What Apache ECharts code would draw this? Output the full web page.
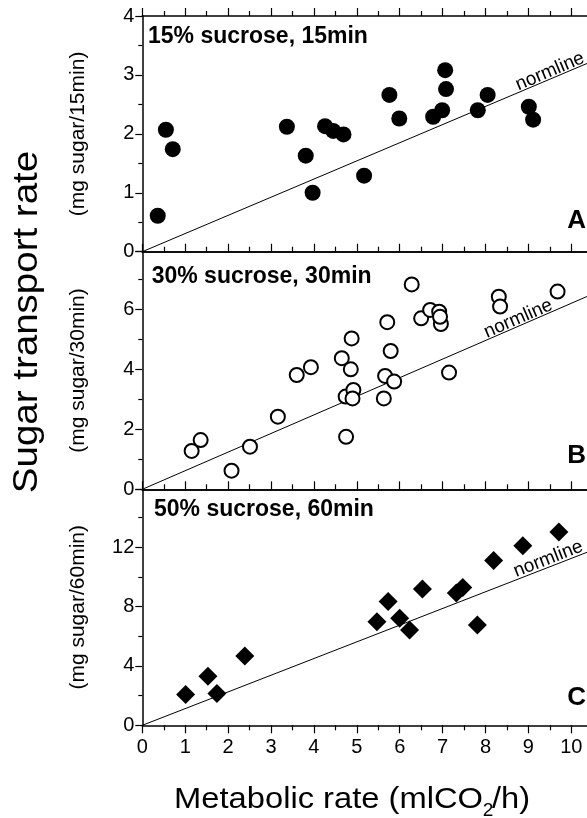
<!DOCTYPE html>
<html><head><meta charset="utf-8">
<script src="https://cdn.jsdelivr.net/npm/echarts@6/dist/echarts.min.js"></script>
<style>html,body{margin:0;padding:0;background:#fff}#c{width:587px;height:818px}</style>
</head><body><div id="c"></div>
<script>
// Panel A: 15% sucrose, 15min (filled circles)
const aX = [0.36,0.55,0.71,3.37,3.81,3.97,4.26,4.45,4.69,5.17,5.76,5.99,6.78,6.99,7.06,7.08,7.82,8.05,9.01,9.11];
const aY = [0.61,2.07,1.74,2.12,1.63,1.00,2.13,2.05,1.99,1.29,2.66,2.26,2.29,2.40,3.08,2.76,2.40,2.66,2.46,2.24];
// Panel B: 30% sucrose, 30min (open circles)
const bX = [1.15,1.36,2.08,2.51,3.16,3.60,3.93,4.65,4.75,4.74,4.86,4.88,4.92,4.90,5.63,5.66,5.71,5.79,5.87,6.28,6.50,6.71,6.92,6.96,6.94,7.15,8.31,8.34,9.68];
const bY = [1.28,1.64,0.62,1.42,2.42,3.81,4.07,4.37,1.75,3.09,4.00,5.03,3.31,3.03,3.03,3.78,5.57,4.61,3.59,6.83,5.70,5.98,5.92,5.51,5.75,3.89,6.42,6.09,6.59];
// Panel C: 50% sucrose, 60min (diamonds)
const cX = [1.01,1.53,1.74,2.39,5.47,5.73,6.00,6.23,6.53,7.32,7.47,7.81,8.19,8.87,9.71];
const cY = [2.07,3.31,2.14,4.66,6.98,8.33,7.21,6.42,9.17,8.90,9.28,6.76,11.10,12.09,13.02];
// normlines (endpoints)
const normA = [[0,0],[11,3.39]];
const normB = [[0,0],[11,6.82]];
const normC = [[0,0],[11,12.36]];
// axis tick settings
const xMin = 0, xMax = 11, xInterval = 1;
const yRanges = [{max:4, interval:1},{max:7.92, interval:2},{max:15.89, interval:4}];
const panelTitles = ['15% sucrose, 15min','30% sucrose, 30min','50% sucrose, 60min'];
const panelLetters = ['A','B','C'];
const unitLabels = ['(mg sugar/15min)','(mg sugar/30min)','(mg sugar/60min)'];

const FF = '"Liberation Sans", Arial, sans-serif';
const chart = echarts.init(document.getElementById('c'), null, {renderer:'canvas'});

const grids = [
  {left:142.3, width:471.9, top:16, height:235.7, outerBoundsMode:'none', containLabel:false},
  {left:142.3, width:471.9, top:251.7, height:237.6, outerBoundsMode:'none', containLabel:false},
  {left:142.3, width:471.9, top:489.3, height:236, outerBoundsMode:'none', containLabel:false}
];
const lineStyle = {color:'#000', width:1.5};
const xAxes = [], yAxes = [];
grids.forEach((g,i)=>{
  const last = i===2;
  xAxes.push({gridIndex:i, type:'value', position:'bottom', min:xMin, max:xMax, interval:xInterval,
    axisLine:{show:true, onZero:false, lineStyle},
    axisTick:{show:last, length:8, lineStyle:{color:'#000', width:1.2}},
    minorTick:{show:last, splitNumber:2, length:5, lineStyle:{color:'#000', width:1.2}},
    axisLabel:{show:last, fontSize:20, fontFamily:FF, color:'#000', margin:12, showMaxLabel:false},
    splitLine:{show:false}});
  xAxes.push({gridIndex:i, type:'value', position:'top', min:xMin, max:xMax, interval:xInterval,
    axisLine:{show:true, onZero:false, lineStyle},
    axisTick:{show:true, length:8, lineStyle:{color:'#000', width:1.2}},
    minorTick:{show:true, splitNumber:2, length:5, lineStyle:{color:'#000', width:1.2}},
    axisLabel:{show:false}, splitLine:{show:false}});
  yAxes.push({gridIndex:i, type:'value', min:0, max:yRanges[i].max, interval:yRanges[i].interval,
    axisLine:{show:true, onZero:false, lineStyle},
    axisTick:{show:true, length:7, lineStyle:{color:'#000', width:1.2}},
    minorTick:{show:true, splitNumber:2, length:4, lineStyle:{color:'#000', width:1.2}},
    axisLabel:{fontSize:20, fontFamily:FF, color:'#000', margin:8, showMaxLabel: i===0},
    splitLine:{show:false}});
});

const zip = (xs, ys) => xs.map((x,k)=>[x, ys[k]]);
const lineSeries = (data, i) => ({type:'line', xAxisIndex:i*2, yAxisIndex:i, data, symbol:'none',
  lineStyle:{color:'#000', width:1}, silent:true, animation:false, z:1});

const series = [
  lineSeries(normA,0), lineSeries(normB,1), lineSeries(normC,2),
  {type:'scatter', xAxisIndex:0, yAxisIndex:0, data:zip(aX,aY), symbol:'circle', symbolSize:16,
    itemStyle:{color:'#000', opacity:1}, animation:false, z:3},
  {type:'scatter', xAxisIndex:2, yAxisIndex:1, data:zip(bX,bY), symbol:'circle', symbolSize:14,
    itemStyle:{color:'#fff', borderColor:'#000', borderWidth:2, opacity:1}, animation:false, z:3},
  {type:'scatter', xAxisIndex:4, yAxisIndex:2, data:zip(cX,cY), symbol:'diamond', symbolSize:19,
    itemStyle:{color:'#000', opacity:1}, animation:false, z:3}
];

function txt(text, x, y, opts) {
  opts = opts || {};
  return {type:'text', x, y, rotation: opts.rotation || 0, scaleX: opts.scaleX || 1, z:10,
    style:{text, fill:'#000', font:(opts.weight||'normal')+' '+opts.size+'px '+FF,
      align:opts.align||'center', textAlign:opts.align||'center',
      verticalAlign:'middle', textVerticalAlign:'middle'}};
}
const gfx = [];
// main titles
gfx.push(txt('Sugar transport rate', 27.5, 322, {size:35, rotation:Math.PI/2, scaleX:1.1}));
const unitY = [133.9, 370.5, 607.3];
unitLabels.forEach((t,i)=>gfx.push(txt(t, 78.5, unitY[i], {size:21, rotation:Math.PI/2})));
gfx.push(txt('Metabolic rate (mlCO', 483, 799.5, {size:30, align:'right', scaleX:1.09}));
gfx.push(txt('2', 488, 811, {size:19}));
gfx.push(txt('/h)', 492, 799.5, {size:30, align:'left', scaleX:1.09}));
// panel titles
const titlePos = [[148,36.7],[151.7,276.5],[154,510]];
panelTitles.forEach((t,i)=>gfx.push(txt(t, titlePos[i][0], titlePos[i][1], {size:23, weight:'bold', align:'left'})));
const letterY = [221, 456, 697.5];
panelLetters.forEach((t,i)=>gfx.push(txt(t, 586, letterY[i], {size:26, weight:'bold', align:'right'})));
// normline labels
const nlPos = [[550,71.5,0.4007],[518.3,318.7,0.4084],[548.3,559,0.3718]];
nlPos.forEach(p=>gfx.push(txt('normline', p[0], p[1], {size:19, rotation:p[2]})));

chart.setOption({
  animation:false,
  backgroundColor:'#fff',
  grid:grids, xAxis:xAxes, yAxis:yAxes, series,
  graphic:{elements:gfx}
});
</script></body></html>
